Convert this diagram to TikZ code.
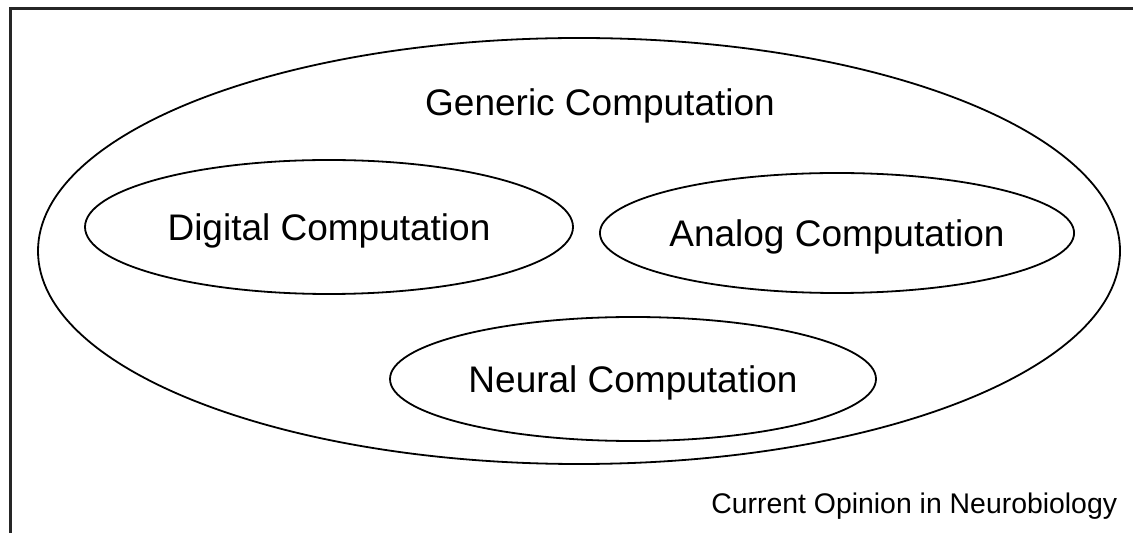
\documentclass[tikz,border=0pt]{standalone}
\usepackage{fontspec}
\setmainfont{Liberation Sans}
\usetikzlibrary{shapes.geometric}

\begin{document}
\begin{tikzpicture}[x=0.5pt,y=-0.5pt,line width=0.9pt,
  compset/.style={draw,ellipse,inner sep=0pt,text depth=0pt,font=\fontsize{18.5}{20}\selectfont}]
\useasboundingbox (0,0) rectangle (1133,533);
% frame (top and left only)
\draw[line width=1.5pt,black!85] (10,533) -- (10,9) -- (1133,9);
% outer set
\node[compset,minimum width=541pt,minimum height=213pt] (generic) at (579,251) {};
\node[font=\fontsize{18.5}{20}\selectfont,text depth=0pt] (genlabel) at (600,102) {Generic Computation};
% inner sets
\node[compset,minimum width=244pt,minimum height=67pt] (digital) at (329,227) {Digital Computation};
\node[compset,minimum width=235pt,minimum height=60pt] (analog) at (837,233) {Analog Computation};
\node[compset,minimum width=243pt,minimum height=62pt] (neural) at (633,379) {Neural Computation};
% source
\node[anchor=base east,inner sep=0pt,font=\fontsize{14.2}{16}\selectfont] (source) at (1118,513) {Current Opinion in Neurobiology};
\end{tikzpicture}
\end{document}
